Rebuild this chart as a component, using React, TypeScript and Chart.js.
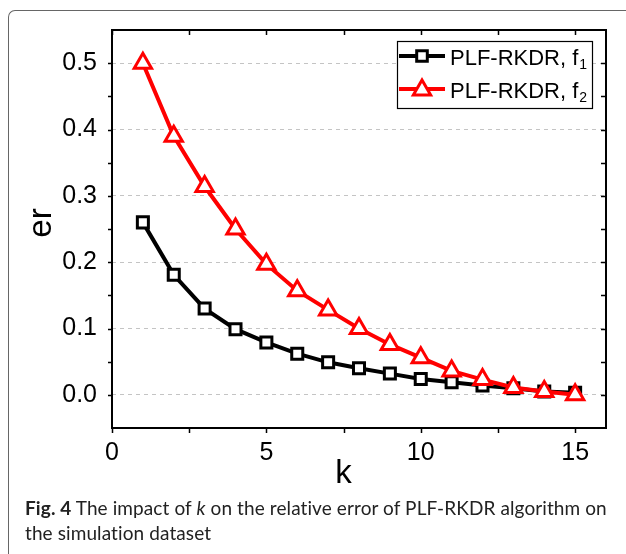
import React, { useEffect, useRef } from 'react';
import { Chart, registerables } from 'chart.js';

Chart.register(...registerables);

// ---- data ----
const K_VALUES = [1, 2, 3, 4, 5, 6, 7, 8, 9, 10, 11, 12, 13, 14, 15];
const F1_VALUES = [0.26, 0.181, 0.13, 0.099, 0.079, 0.062, 0.049, 0.04, 0.032, 0.024, 0.019, 0.014, 0.01, 0.005, 0.003];
const F2_VALUES = [0.5, 0.39, 0.314, 0.25, 0.197, 0.157, 0.128, 0.1, 0.076, 0.056, 0.036, 0.023, 0.011, 0.005, 0.0];
const SERIES_LABELS = ['PLF-RKDR, f1', 'PLF-RKDR, f2'];
const LEGEND_BASE = 'PLF-RKDR, f';
const LEGEND_SUBS = ['1', '2'];
const X_TICKS = [0, 5, 10, 15];
const Y_TICKS = [0, 0.1, 0.2, 0.3, 0.4, 0.5];
const X_MINOR = [2.5, 7.5, 12.5];
const Y_MINOR = [0.05, 0.15, 0.25, 0.35, 0.45];
const X_TITLE = 'k';
const Y_TITLE = 'er';

const FONT = '"Liberation Sans", Arial, sans-serif';

const framePlugin = {
  id: 'frameTicks',
  afterDatasetsDraw(chart: any) {
    const { ctx, chartArea: a, scales } = chart;
    const xs = scales.x;
    const ys = scales.y;
    ctx.save();
    ctx.strokeStyle = '#000';
    ctx.lineWidth = 1.5;
    ctx.beginPath();
    const yAll = [...Y_TICKS, ...Y_MINOR];
    yAll.forEach((v) => {
      const py = Math.round(ys.getPixelForValue(v)) + 0.5;
      ctx.moveTo(a.left - 4, py);
      ctx.lineTo(a.left, py);
      ctx.moveTo(a.right - 5, py);
      ctx.lineTo(a.right, py);
    });
    const xAll = [...X_TICKS, ...X_MINOR];
    xAll.forEach((v) => {
      const px = Math.round(xs.getPixelForValue(v)) + 0.5;
      ctx.moveTo(px, a.bottom);
      ctx.lineTo(px, a.bottom + 5);
      ctx.moveTo(px, a.top);
      ctx.lineTo(px, a.top + 5);
    });
    ctx.stroke();
    ctx.lineWidth = 2;
    ctx.strokeRect(a.left, a.top, a.right - a.left, a.bottom - a.top);
    ctx.restore();
  },
  afterDraw(chart: any) {
    const { ctx, chartArea: a, scales } = chart;
    ctx.save();
    // axis titles
    ctx.fillStyle = '#000';
    ctx.font = `33px ${FONT}`;
    ctx.textAlign = 'center';
    ctx.textBaseline = 'alphabetic';
    ctx.fillText(X_TITLE, scales.x.getPixelForValue(7.5), 483);
    ctx.save();
    ctx.translate(51, (a.top + a.bottom) / 2 - 6);
    ctx.rotate(-Math.PI / 2);
    ctx.fillText(Y_TITLE, 0, 0);
    ctx.restore();

    // legend
    const bx = 397, by = 41, bw = 195, bh = 67;
    ctx.fillStyle = '#fff';
    ctx.fillRect(bx, by, bw, bh);
    ctx.strokeStyle = '#000';
    ctx.lineWidth = 1.2;
    ctx.strokeRect(bx + 0.5, by + 0.5, bw, bh);
    const rows = [
      { y: 56, color: '#000', style: 'rect', r: 7.5 },
      { y: 89, color: '#ff0000', style: 'triangle', r: 10 },
    ];
    rows.forEach((row, i) => {
      ctx.strokeStyle = row.color;
      ctx.lineWidth = 4;
      ctx.beginPath();
      ctx.moveTo(bx + 2, row.y);
      ctx.lineTo(bx + 48, row.y);
      ctx.stroke();
      ctx.fillStyle = '#fff';
      ctx.lineWidth = 3;
      ctx.beginPath();
      const cx = bx + 25;
      if (row.style === 'rect') {
        const s = row.r * Math.SQRT1_2;
        ctx.rect(cx - s, row.y - s, 2 * s, 2 * s);
      } else {
        const ty = row.y + 1;
        for (let k = 0; k < 3; k++) {
          const ang = (k * 2 * Math.PI) / 3;
          const px = cx + Math.sin(ang) * row.r;
          const py = ty - Math.cos(ang) * row.r;
          if (k === 0) ctx.moveTo(px, py);
          else ctx.lineTo(px, py);
        }
        ctx.closePath();
      }
      ctx.fill();
      ctx.stroke();
      ctx.fillStyle = '#000';
      ctx.textAlign = 'left';
      ctx.textBaseline = 'alphabetic';
      ctx.font = `22px ${FONT}`;
      const base = row.y + 9;
      ctx.fillText(LEGEND_BASE, bx + 53, base);
      const w = ctx.measureText(LEGEND_BASE).width;
      ctx.font = `14px ${FONT}`;
      ctx.fillText(LEGEND_SUBS[i], bx + 53 + w + 1, base + 4);
    });
    ctx.restore();
  },
};

function ChartView() {
  const ref = useRef<HTMLCanvasElement | null>(null);
  useEffect(() => {
    const canvas = ref.current;
    if (!canvas) return;
    const chart = new Chart(canvas, {
      type: 'line',
      data: {
        datasets: [
          {
            label: SERIES_LABELS[0],
            data: K_VALUES.map((k, i) => ({ x: k, y: F1_VALUES[i] })),
            borderColor: '#000',
            backgroundColor: '#fff',
            borderWidth: 4,
            pointStyle: 'rect',
            pointRadius: 7.8,
            pointBorderWidth: 3,
            pointBackgroundColor: '#fff',
            pointBorderColor: '#000',
            tension: 0,
            order: 1,
          },
          {
            label: SERIES_LABELS[1],
            data: K_VALUES.map((k, i) => ({ x: k, y: F2_VALUES[i] })),
            borderColor: '#ff0000',
            backgroundColor: '#fff',
            borderWidth: 4,
            pointStyle: 'triangle',
            pointRadius: 10,
            pointBorderWidth: 3,
            pointBackgroundColor: '#fff',
            pointBorderColor: '#ff0000',
            tension: 0,
            order: 0,
          },
        ],
      },
      options: {
        animation: false,
        responsive: false,
        maintainAspectRatio: false,
        layout: { padding: { top: 30, right: 20, left: 0, bottom: 0 } },
        plugins: { legend: { display: false }, tooltip: { enabled: false } },
        scales: {
          x: {
            type: 'linear',
            min: 0,
            max: 16,
            afterBuildTicks: (s: any) => {
              s.ticks = X_TICKS.map((v) => ({ value: v }));
            },
            afterFit: (s: any) => {
              s.height = 72;
            },
            grid: { display: false, drawTicks: false },
            border: { display: false },
            ticks: {
              padding: 10,
              color: '#000',
              maxRotation: 0,
              font: { family: FONT, size: 25 },
              callback: (v: any) => String(v),
            },
          },
          y: {
            type: 'linear',
            min: -0.05,
            max: 0.55,
            afterBuildTicks: (s: any) => {
              s.ticks = Y_TICKS.map((v) => ({ value: v }));
            },
            afterFit: (s: any) => {
              s.width = 112;
            },
            grid: { color: '#c4c4c4', lineWidth: 1, drawTicks: false },
            border: { display: false, dash: [4, 4] },
            ticks: {
              padding: 15,
              color: '#000',
              font: { family: FONT, size: 25 },
              callback: (v: any) => Number(v).toFixed(1),
            },
          },
        },
      },
      plugins: [framePlugin],
    });
    return () => chart.destroy();
  }, []);
  return (
    <canvas
      ref={ref}
      width={626}
      height={500}
      style={{ position: 'absolute', left: 0, top: 0, width: 626, height: 500, display: 'block' }}
    />
  );
}

export default function App() {
  return (
    <div style={{ position: 'absolute', left: 0, top: 0, width: 626, height: 554, overflow: 'hidden', background: '#fff' }}>
      <div
        style={{
          position: 'absolute',
          left: 8,
          top: 10,
          width: 640,
          height: 560,
          borderLeft: '1px solid #666',
          borderTop: '1px solid #666',
          borderTopLeftRadius: 7,
        }}
      />
      <ChartView />
      <div
        style={{
          position: 'absolute',
          left: 25,
          top: 495,
          width: 600,
          fontFamily: 'Lato, "Open Sans", sans-serif',
          fontSize: 19,
          letterSpacing: '0.1px',
          lineHeight: '25px',
          color: '#222',
          whiteSpace: 'nowrap',
        }}
      >
        <div>
          <b>Fig. 4</b> The impact of <i>k</i> on the relative error of PLF-RKDR algorithm on
        </div>
        <div>the simulation dataset</div>
      </div>
    </div>
  );
}
